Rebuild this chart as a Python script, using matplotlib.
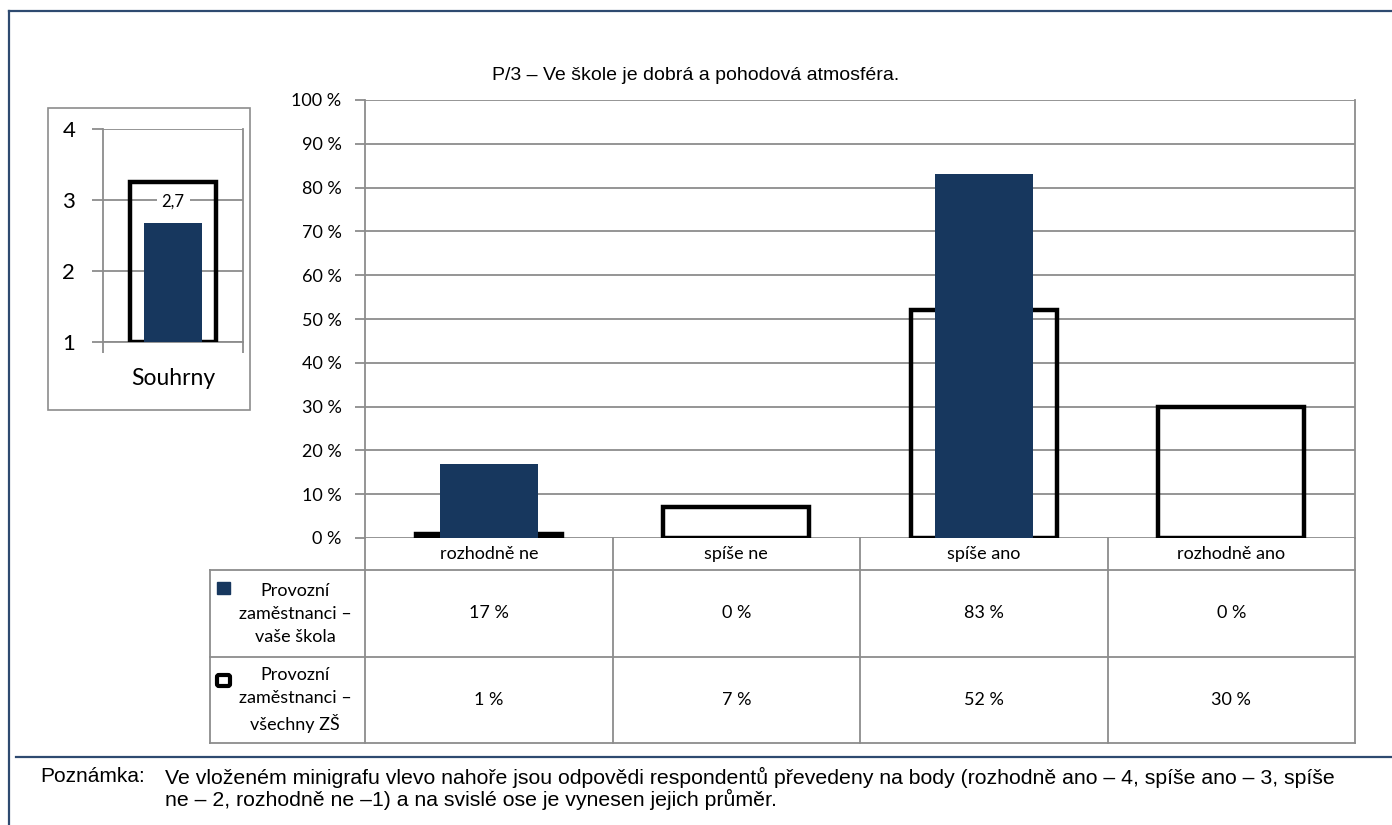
import matplotlib
matplotlib.use("Agg")
import matplotlib.pyplot as plt
from matplotlib.patches import Rectangle, FancyBboxPatch

W, H = 1392, 825

# data
categories = ["rozhodně ne", "spíše ne", "spíše ano", "rozhodně ano"]
school_pct = [17, 0, 83, 0]
all_pct = [1, 7, 52, 30]
series_labels = ["Provozní\nzaměstnanci –\nvaše škola",
                 "Provozní\nzaměstnanci –\nvšechny ZŠ"]
mini_label = "Souhrny"
school_mean = 2.68
all_mean = 3.25
title = "P/3 – Ve škole je dobrá a pohodová atmosféra."
note_head = "Poznámka:"
note_lines = ["Ve vloženém minigrafu vlevo nahoře jsou odpovědi respondentů převedeny na body (rozhodně ano – 4, spíše ano – 3, spíše",
              "ne – 2, rozhodně ne –1) a na svislé ose je vynesen jejich průměr."]

NAVY = "#17375E"
GRID = "#8C8C8C"
FRAME = "#2E4A70"
SANS = "Lato"
ARIAL = "Liberation Sans"
FS = 13


def rect(l, t, r, b):
    # pixel box -> figure fraction
    return [l / W, 1 - b / H, (r - l) / W, (b - t) / H]


fig = plt.figure(figsize=(W / 100, H / 100), dpi=100)

# overlay in pixel coords for frames, table and notes
ov = fig.add_axes([0, 0, 1, 1])
ov.set_xlim(0, W)
ov.set_ylim(H, 0)
ov.axis("off")

ov.plot([9, 9], [11, H], color=FRAME, lw=1.6)
ov.plot([9, W], [11, 11], color=FRAME, lw=1.6)
ov.plot([16, W], [757, 757], color=FRAME, lw=1.6)

ov.text(696, 75, title, ha="center", va="center", fontsize=14, family=ARIAL)

ov.text(40, 777, note_head, va="center", fontsize=15, family=ARIAL)
for i, line in enumerate(note_lines):
    ov.text(165, 777 + i * 22, line, va="center", fontsize=15.3, family=ARIAL)

# main chart
ax = fig.add_axes(rect(365, 100, 1355, 538))
ax.patch.set_alpha(0)
x = list(range(len(categories)))
ax.bar(x, all_pct, width=0.59, fill=False, edgecolor="black", lw=3.2, zorder=3)
ax.bar(x, school_pct, width=0.395, color=NAVY, lw=0, zorder=4)
ax.set_xlim(-0.5, len(categories) - 0.5)
ax.set_ylim(0, 100)
ax.set_yticks(range(0, 101, 10))
ax.set_yticklabels([f"{v} %" for v in range(0, 101, 10)], fontsize=FS, family=SANS)
ax.yaxis.grid(True, color=GRID, lw=1.3)
ax.set_axisbelow(True)
ax.set_xticks([])
ax.tick_params(axis="y", length=7, width=1.3, color=GRID, pad=10)
for s in ["top", "bottom"]:
    ax.spines[s].set_visible(False)
for s in ["left", "right"]:
    ax.spines[s].set_color(GRID)
    ax.spines[s].set_linewidth(1.3)

# data table under the chart
edges = [ax.transData.transform((i - 0.5, 0))[0] for i in range(len(categories) + 1)]
col_l, row_t, row_m, row_b, head_t = 210, 570, 657, 743, 538
for e in edges:
    ov.plot([e, e], [head_t, row_b], color=GRID, lw=1.3)
ov.plot([col_l, col_l], [row_t, row_b], color=GRID, lw=1.3)
for yy in (row_t, row_m, row_b):
    ov.plot([col_l, edges[-1]], [yy, yy], color=GRID, lw=1.3)

for i, cat in enumerate(categories):
    cx = (edges[i] + edges[i + 1]) / 2
    ov.text(cx, 554, cat, ha="center", va="center", fontsize=FS, family=SANS)
    ov.text(cx, (row_t + row_m) / 2, f"{school_pct[i]} %", ha="center", va="center",
            fontsize=FS, family=SANS)
    ov.text(cx, (row_m + row_b) / 2, f"{all_pct[i]} %", ha="center", va="center",
            fontsize=FS, family=SANS)

ov.text(295, 614, series_labels[0], ha="center", va="center", fontsize=FS,
        family=SANS, linespacing=1.5)
ov.text(295, 700, series_labels[1], ha="center", va="center", fontsize=FS,
        family=SANS, linespacing=1.5)
ov.add_patch(Rectangle((217, 582), 13, 12, color=NAVY))
ov.add_patch(FancyBboxPatch((217, 675), 13, 11, boxstyle="round,pad=0,rounding_size=2",
                            fill=False, ec="black", lw=3))

# mini chart (averages)
ov.add_patch(Rectangle((48, 108), 202, 302, fill=False, ec=GRID, lw=1.2))
mx = fig.add_axes(rect(103, 129, 243, 342))
mx.patch.set_alpha(0)
mx.bar(0, all_mean - 1, bottom=1, width=0.61, fill=False, edgecolor="black", lw=3.2, zorder=3)
mx.bar(0, school_mean - 1, bottom=1, width=0.41, color=NAVY, lw=0, zorder=4)
mx.set_xlim(-0.5, 0.5)
mx.set_ylim(1, 4)
mx.set_yticks([1, 2, 3, 4])
mx.set_yticklabels(["1", "2", "3", "4"], fontsize=16, family=SANS)
mx.yaxis.grid(True, color=GRID, lw=1.3)
mx.set_axisbelow(True)
mx.set_xticks([0])
mx.set_xticklabels([mini_label], fontsize=16.5, family=SANS)
mx.set_xticks([-0.5, 0.5], minor=True)
mx.tick_params(axis="x", which="major", length=0, pad=19)
mx.tick_params(axis="x", which="minor", length=8, width=1.3, color=GRID)
mx.tick_params(axis="y", length=8, width=1.3, color=GRID, pad=12)
mx.spines["top"].set_visible(False)
for s in ["left", "right", "bottom"]:
    mx.spines[s].set_color(GRID)
    mx.spines[s].set_linewidth(1.3)
mx.annotate(f"{school_mean:.1f}".replace(".", ","), (0, school_mean), xytext=(0, 15),
            textcoords="offset points", ha="center", va="center", fontsize=12,
            family=SANS, zorder=6,
            bbox=dict(boxstyle="square,pad=0.3", fc="white", ec="none"))

fig.savefig("out.png", dpi=100)
